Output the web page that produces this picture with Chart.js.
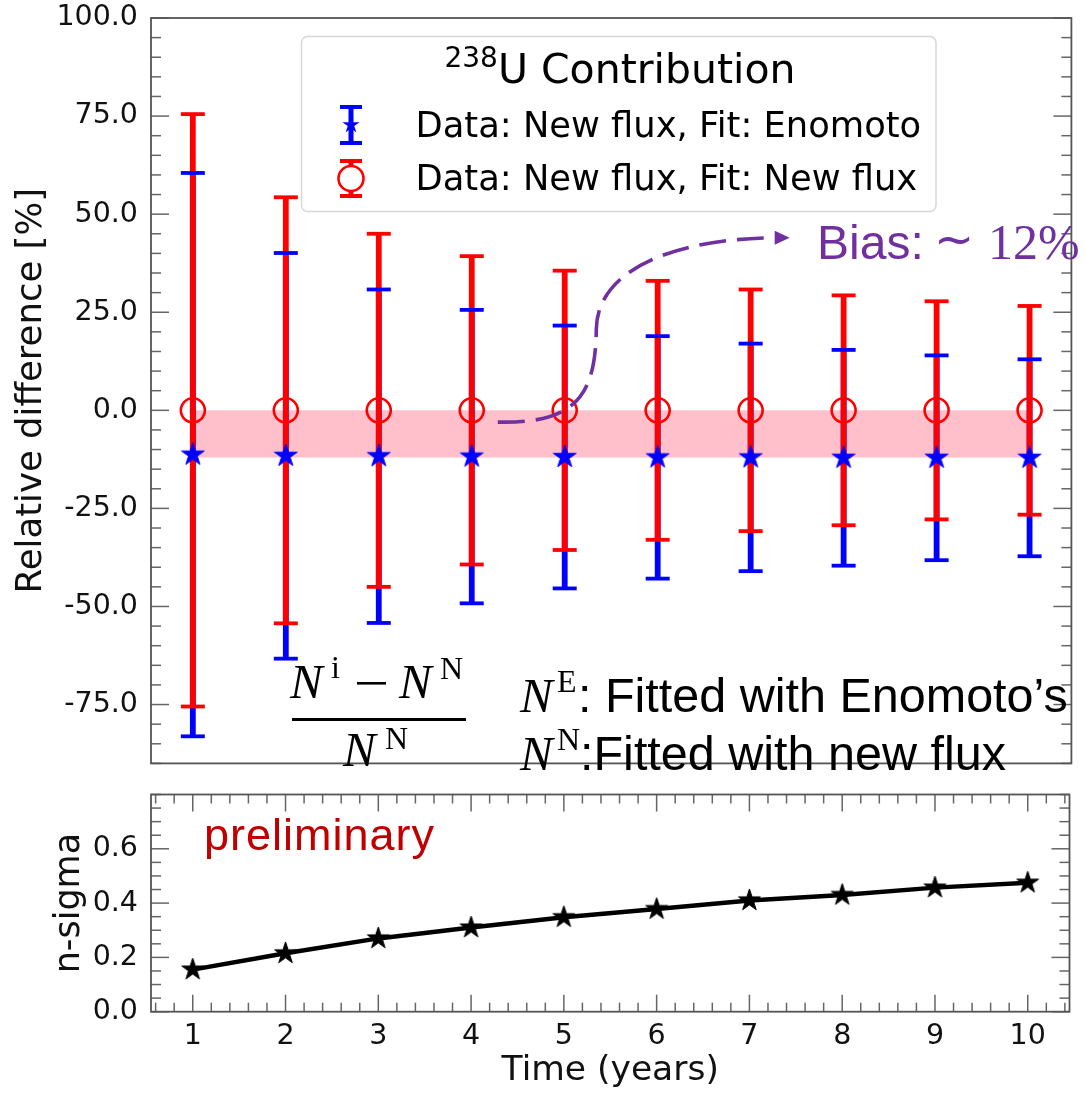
<!DOCTYPE html>
<html>
<head>
<meta charset="utf-8">
<script src="https://cdn.jsdelivr.net/npm/chart.js@4.4.1/dist/chart.umd.min.js"></script>
<style>
  body { margin: 0; background: #fff; }
  canvas { position: absolute; left: 0; }
  #top { top: 0; }
  #bottom { top: 778px; }
</style>
</head>
<body>
<canvas id="top" width="1086" height="778"></canvas>
<canvas id="bottom" width="1086" height="315"></canvas>
<script>
// measurement years
const years = [1, 2, 3, 4, 5, 6, 7, 8, 9, 10];

// data: new flux, fit: Enomoto (relative difference, %)
const fitEnomoto = [-11.3, -11.6, -11.7, -11.8, -11.9, -12.0, -12.0, -12.1, -12.1, -12.1];
const errEnomoto = [71.8, 51.7, 42.5, 37.4, 33.5, 30.9, 29.0, 27.5, 26.1, 25.1];

// data: new flux, fit: new flux
const fitNewFlux = [0, 0, 0, 0, 0, 0, 0, 0, 0, 0];
const errNewFlux = [75.5, 54.3, 45.0, 39.3, 35.6, 33.0, 30.8, 29.3, 27.8, 26.6];

// shaded bias band edges
const bandTop = 0;
const bandBottom = -12;

// significance of the bias
const nSigma = [0.155, 0.215, 0.27, 0.31, 0.348, 0.378, 0.41, 0.43, 0.457, 0.475];

const relTicks = [-75, -50, -25, 0, 25, 50, 75, 100];
const sigmaTicks = [0, 0.2, 0.4, 0.6];

const FONT = 'DejaVu Sans';
const PURPLE = '#7030A0';

function starCanvas(color, r) {
  const c = document.createElement('canvas');
  const s = Math.ceil(2 * r + 4);
  c.width = c.height = s;
  const g = c.getContext('2d');
  g.translate(s / 2, s / 2);
  starPath(g, 0, 0, r);
  g.fillStyle = color;
  g.fill();
  g.strokeStyle = color;
  g.lineWidth = 1;
  g.stroke();
  return c;
}

function starPath(g, cx, cy, r) {
  g.beginPath();
  for (let k = 0; k < 10; k++) {
    const rad = k % 2 ? r * 0.382 : r;
    const a = -Math.PI / 2 + k * Math.PI / 5;
    g.lineTo(cx + rad * Math.cos(a), cy + rad * Math.sin(a));
  }
  g.closePath();
}

// inward ticks and box around the plot area
const frame = {
  id: 'frame',
  afterDatasetsDraw(chart, args, opts) {
    const {ctx, chartArea: a, scales} = chart;
    const line = (x1, y1, x2, y2) => {
      ctx.beginPath(); ctx.moveTo(x1, y1); ctx.lineTo(x2, y2); ctx.stroke();
    };
    const minors = (min, max, step, major) => {
      const out = [];
      for (let k = Math.ceil(min / step - 1e-9); k * step <= max + 1e-9; k++) {
        const v = k * step;
        if (!major.some(m => Math.abs(m - v) < step / 10)) out.push(v);
      }
      return out;
    };
    ctx.save();
    ctx.strokeStyle = '#666';
    ctx.lineWidth = 1.5;
    const y = scales.y;
    const yMajor = y.ticks.map(t => t.value);
    yMajor.forEach(v => {
      const p = y.getPixelForValue(v);
      line(a.left, p, a.left + 18, p);
      line(a.right, p, a.right - 18, p);
    });
    minors(y.min, y.max, opts.yMinor, yMajor).forEach(v => {
      const p = y.getPixelForValue(v);
      line(a.left, p, a.left + 10, p);
      line(a.right, p, a.right - 10, p);
    });
    if (opts.xMinor) {
      const x = scales.x;
      const xMajor = x.ticks.map(t => t.value);
      xMajor.forEach(v => {
        const p = x.getPixelForValue(v);
        line(p, a.top, p, a.top + 17);
        line(p, a.bottom, p, a.bottom - 17);
      });
      minors(x.min, x.max, opts.xMinor, xMajor).forEach(v => {
        const p = x.getPixelForValue(v);
        line(p, a.top, p, a.top + 9);
        line(p, a.bottom, p, a.bottom - 9);
      });
    }
    ctx.strokeStyle = '#555';
    ctx.lineWidth = 1.8;
    ctx.strokeRect(a.left, a.top, a.right - a.left, a.bottom - a.top);
    ctx.restore();
  }
};

// vertical error bars, drawn just before the first marker set
let barsDone = false;
const errorBars = {
  id: 'errorBars',
  beforeDatasetsDraw() { barsDone = false; },
  beforeDatasetDraw(chart, args) {
    if (barsDone || !chart.data.datasets[args.index].err) return;
    barsDone = true;
    const {ctx, scales: {x, y}} = chart;
    const sets = chart.data.datasets.filter(d => d.err);
    // Enomoto bars underneath
    sets.sort((p, q) => q.err[0] < p.err[0] ? 1 : -1);
    ctx.save();
    ctx.lineCap = 'butt';
    sets.forEach(d => {
      ctx.strokeStyle = d.errColor;
      ctx.lineWidth = 5.8;
      d.data.forEach((pt, i) => {
        const px = x.getPixelForValue(pt.x);
        ctx.beginPath();
        ctx.moveTo(px, y.getPixelForValue(pt.y + d.err[i]));
        ctx.lineTo(px, y.getPixelForValue(pt.y - d.err[i]));
        ctx.stroke();
      });
    });
    sets.slice().reverse().forEach(d => {
      ctx.strokeStyle = d.errColor;
      ctx.lineWidth = 3.8;
      d.data.forEach((pt, i) => {
        const px = x.getPixelForValue(pt.x);
        [pt.y + d.err[i], pt.y - d.err[i]].forEach(v => {
          const py = y.getPixelForValue(v);
          ctx.beginPath();
          ctx.moveTo(px - 12, py);
          ctx.lineTo(px + 12, py);
          ctx.stroke();
        });
      });
    });
    ctx.restore();
  }
};

function put(ctx, str, x, y, font, color, align) {
  ctx.font = font;
  ctx.fillStyle = color || '#000';
  ctx.textAlign = align || 'left';
  ctx.textBaseline = 'alphabetic';
  ctx.fillText(str, x, y);
}

// legend box, bias arrow and the formula notes
const notes = {
  id: 'notes',
  afterDraw(chart) {
    const {ctx, scales: {x, y}} = chart;
    const ds = chart.data.datasets;
    const eno = ds.find(d => d.key === 'eno');
    const nf = ds.find(d => d.key === 'nf');
    ctx.save();

    // legend
    ctx.beginPath();
    ctx.roundRect(301.5, 36.5, 634.5, 175, 6);
    ctx.fillStyle = 'rgba(255,255,255,0.85)';
    ctx.fill();
    ctx.strokeStyle = '#d8d8d8';
    ctx.lineWidth = 1.5;
    ctx.stroke();

    ctx.font = `28px "${FONT}"`;
    const wSup = ctx.measureText('238').width;
    ctx.font = `41px "${FONT}"`;
    const wMain = ctx.measureText('U Contribution').width;
    const tx = 620 - (wSup + wMain) / 2;
    put(ctx, '238', tx, 67, `28px "${FONT}"`, '#000');
    put(ctx, 'U Contribution', tx + wSup, 83, `41px "${FONT}"`, '#000');
    put(ctx, eno.label, 415.5, 136.5, `35.3px "${FONT}"`, '#000');
    put(ctx, nf.label, 415.5, 189.5, `35.3px "${FONT}"`, '#000');

    const icon = (color, yt, yb) => {
      ctx.strokeStyle = color;
      ctx.lineWidth = 5;
      ctx.beginPath(); ctx.moveTo(351, yt); ctx.lineTo(351, yb); ctx.stroke();
      ctx.lineWidth = 4;
      [yt, yb].forEach(v => {
        ctx.beginPath(); ctx.moveTo(340, v); ctx.lineTo(362, v); ctx.stroke();
      });
    };
    icon(eno.errColor, 107, 143);
    starPath(ctx, 351, 125, 9);
    ctx.fillStyle = eno.errColor;
    ctx.fill();
    icon(nf.errColor, 161, 196);
    ctx.beginPath();
    ctx.arc(351, 178.5, 12.5, 0, Math.PI * 2);
    ctx.fillStyle = '#fff';
    ctx.fill();
    ctx.lineWidth = 2.6;
    ctx.stroke();

    // dashed arrow from the band to the bias label
    const P = (vx, vy) => [x.getPixelForValue(vx), y.getPixelForValue(vy)];
    const p0 = P(4.28, -3.0), c1 = P(5.15, -3.5), c2 = P(5.33, 4.5), m = P(5.34, 20.75);
    const c3 = P(5.35, 35.75), c4 = P(6.16, 43.75), e = P(7.27, 44.0), tip = P(7.42, 44.0);
    ctx.strokeStyle = PURPLE;
    ctx.lineWidth = 3.6;
    ctx.setLineDash([27, 11]);
    ctx.beginPath();
    ctx.moveTo(...p0);
    ctx.bezierCurveTo(...c1, ...c2, ...m);
    ctx.bezierCurveTo(...c3, ...c4, ...e);
    ctx.stroke();
    ctx.setLineDash([]);
    ctx.beginPath();
    ctx.moveTo(...tip);
    ctx.lineTo(tip[0] - 15, tip[1] - 7);
    ctx.lineTo(tip[0] - 15, tip[1] + 7);
    ctx.closePath();
    ctx.fillStyle = PURPLE;
    ctx.fill();

    put(ctx, 'Bias:', 817, 259, '48px "Liberation Sans"', PURPLE);
    put(ctx, '~', 954, 256, '48px "DejaVu Sans"', PURPLE, 'center');
    put(ctx, '12%', 988, 259, '50px "Liberation Serif"', PURPLE);

    // (N^i - N^N) / N^N
    const NI = 'italic 49px "Liberation Serif"';
    const SUP = '32px "Liberation Serif"';
    put(ctx, 'N', 290, 698, NI);
    put(ctx, 'i', 331, 678, SUP);
    ctx.fillStyle = '#000';
    ctx.fillRect(357, 682, 29, 2.6);
    put(ctx, 'N', 399, 698, NI);
    put(ctx, 'N', 440, 679, SUP);
    ctx.fillStyle = '#000';
    ctx.fillRect(292, 718, 174, 3);
    put(ctx, 'N', 343, 766, NI);
    put(ctx, 'N', 385, 749, SUP);

    // symbol key
    put(ctx, 'N', 520, 712, NI);
    put(ctx, 'E', 557, 692, SUP);
    put(ctx, ': Fitted with Enomoto\u2019s', 578, 712, '48.5px "Liberation Sans"');
    put(ctx, 'N', 520, 770, NI);
    put(ctx, 'N', 557, 750, SUP);
    put(ctx, ':Fitted with new flux', 580, 770, '48.5px "Liberation Sans"');
    ctx.restore();
  }
};

const tickFont = {family: FONT, size: 28.5};

new Chart(document.getElementById('top'), {
  type: 'scatter',
  data: {
    datasets: [
      {
        type: 'line',
        data: years.map(v => ({x: v, y: bandTop})),
        borderColor: 'rgba(0,0,0,0)', borderWidth: 0, pointRadius: 0,
        fill: false, order: 6
      },
      {
        type: 'line',
        data: years.map(v => ({x: v, y: bandBottom})),
        borderColor: 'rgba(0,0,0,0)', borderWidth: 0, pointRadius: 0,
        fill: '-1', backgroundColor: 'pink', order: 5
      },
      {
        key: 'nf',
        label: 'Data: New flux, Fit: New flux',
        data: years.map((v, i) => ({x: v, y: fitNewFlux[i]})),
        err: errNewFlux, errColor: '#ff0000',
        pointStyle: 'circle', pointRadius: 12, borderWidth: 2.6,
        borderColor: '#ff0000', backgroundColor: 'rgba(0,0,0,0)',
        order: 2
      },
      {
        key: 'eno',
        label: 'Data: New flux, Fit: Enomoto',
        data: years.map((v, i) => ({x: v, y: fitEnomoto[i]})),
        err: errEnomoto, errColor: '#0000ff',
        pointStyle: starCanvas('#0000ff', 12), pointRadius: 12,
        order: 1
      }
    ]
  },
  options: {
    responsive: false,
    animation: false,
    events: [],
    layout: {padding: {top: 18, right: 1, bottom: 0, left: 0}},
    plugins: {
      legend: {display: false},
      tooltip: {enabled: false},
      frame: {yMinor: 5}
    },
    scales: {
      x: {type: 'linear', min: 0.55, max: 10.45, display: false},
      y: {
        min: -90, max: 100,
        afterBuildTicks: s => { s.ticks = relTicks.map(v => ({value: v})); },
        afterFit: s => { s.width = 151; s.paddingTop = 0; s.paddingBottom = 0; },
        grid: {display: false, drawTicks: false},
        border: {display: false},
        ticks: {padding: 13, color: '#111', font: tickFont, callback: v => v.toFixed(1)},
        title: {display: true, text: 'Relative difference [%]', color: '#111', font: {family: FONT, size: 35.5}, padding: {top: 10, bottom: 0}}
      }
    }
  },
  plugins: [errorBars, frame, notes]
});

const preliminary = {
  id: 'preliminary',
  afterDraw(chart) {
    const {ctx} = chart;
    ctx.save();
    ctx.letterSpacing = '1px';
    put(ctx, 'preliminary', 204, 850 - 778, '45px "Liberation Sans"', '#C00000');
    ctx.restore();
  }
};

new Chart(document.getElementById('bottom'), {
  type: 'line',
  data: {
    datasets: [{
      data: years.map((v, i) => ({x: v, y: nSigma[i]})),
      borderColor: '#000', borderWidth: 4.5, tension: 0,
      pointStyle: starCanvas('#000', 11.5), pointRadius: 12
    }]
  },
  options: {
    responsive: false,
    animation: false,
    events: [],
    layout: {padding: {top: 1, right: 1, bottom: 0, left: 0}},
    plugins: {
      legend: {display: false},
      tooltip: {enabled: false},
      frame: {yMinor: 0.05, xMinor: 0.2}
    },
    scales: {
      x: {
        type: 'linear', min: 0.55, max: 10.45,
        afterBuildTicks: s => { s.ticks = years.map(v => ({value: v})); },
        afterFit: s => { s.height = 81.3; s.paddingLeft = 0; s.paddingRight = 0; },
        grid: {display: false, drawTicks: false},
        border: {display: false},
        ticks: {padding: 8, color: '#111', font: tickFont},
        title: {display: true, text: 'Time (years)', color: '#111', font: {family: FONT, size: 34.5}, padding: {top: 0, bottom: 1}}
      },
      y: {
        min: 0, max: 0.8,
        afterBuildTicks: s => { s.ticks = sigmaTicks.map(v => ({value: v})); },
        afterFit: s => { s.width = 151; s.paddingTop = 0; s.paddingBottom = 0; },
        grid: {display: false, drawTicks: false},
        border: {display: false},
        ticks: {padding: 13, color: '#111', font: tickFont, callback: v => v.toFixed(1)},
        title: {display: true, text: 'n-sigma', color: '#111', font: {family: FONT, size: 35}, padding: {top: 49, bottom: 0}}
      }
    }
  },
  plugins: [frame, preliminary]
});
</script>
</body>
</html>
